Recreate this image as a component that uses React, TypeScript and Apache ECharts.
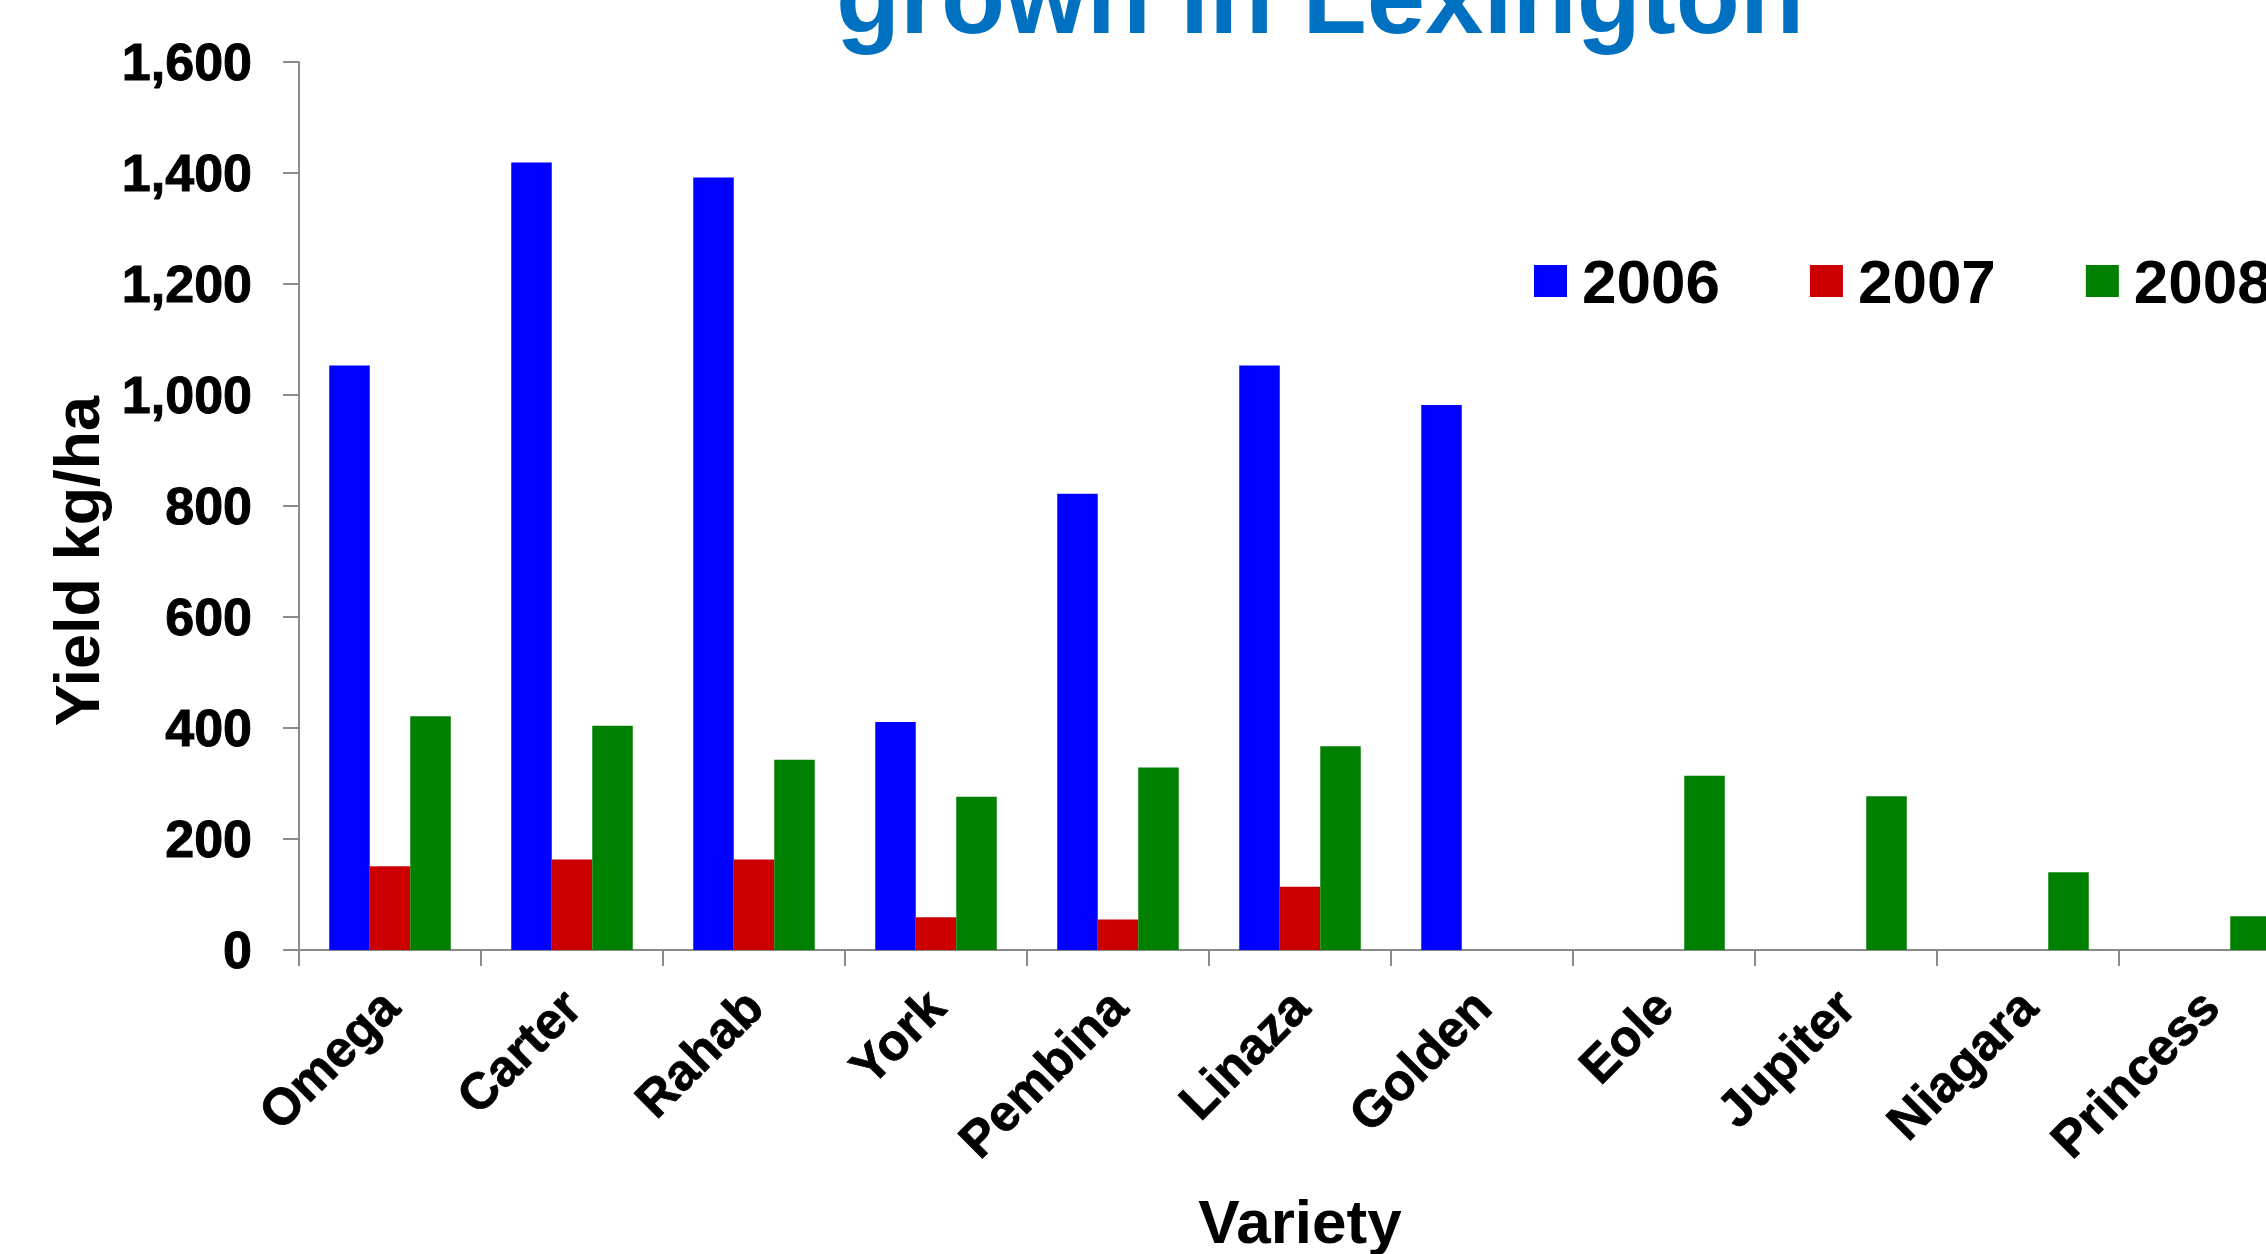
import React, { useEffect, useRef } from "react";
import * as echarts from "echarts";

const categories = ["Omega", "Carter", "Rahab", "York", "Pembina", "Linaza", "Golden", "Eole", "Jupiter", "Niagara", "Princess"];
const y2006 = [1053, 1419, 1392, 411, 822, 1053, 982, null, null, null, null];
const y2007 = [151, 163, 163, 59, 55, 114, null, null, null, null, null];
const y2008 = [421, 404, 343, 276, 329, 367, null, 314, 277, 140, 61];
const seriesNames = ["2006", "2007", "2008"];
const seriesColors = ["#0000FF", "#CC0000", "#008000"];
const titleText = "grown in Lexington";
const yAxisName = "Yield kg/ha";
const xAxisName = "Variety";

const FONT = "'Liberation Sans', Arial, sans-serif";

export default function App() {
  const ref = useRef<HTMLDivElement>(null);
  useEffect(() => {
    const chart = echarts.init(ref.current!, null, { renderer: "svg" });
    const data = [y2006, y2007, y2008];
    chart.setOption({
      animation: false,
      backgroundColor: "#ffffff",
      grid: { left: 299, top: 62, width: 2002, height: 888, containLabel: false, outerBoundsMode: "none" },
      legend: {
        data: seriesNames,
        left: 1529,
        top: 245,
        width: 1200,
        itemWidth: 33,
        itemHeight: 32,
        itemGap: 90,
        icon: "rect",
        textStyle: { fontFamily: FONT, fontSize: 62, fontWeight: "bold", color: "#000", padding: [0, 0, 0, 10] },
      },
      xAxis: {
        type: "category",
        data: categories,
        axisLine: { show: true, lineStyle: { color: "#8c8c8c", width: 2 } },
        axisTick: { show: true, length: 16, lineStyle: { color: "#8c8c8c", width: 2 } },
        axisLabel: {
          rotate: 45,
          margin: 48,
          interval: 0,
          fontFamily: FONT,
          fontSize: 51,
          fontWeight: "bold",
          color: "#000",
          textBorderColor: "#000",
          textBorderWidth: 0.8,
        },
        splitLine: { show: false },
      },
      yAxis: {
        type: "value",
        min: 0,
        max: 1600,
        interval: 200,
        axisLine: { show: true, lineStyle: { color: "#8c8c8c", width: 2 } },
        axisTick: { show: true, length: 16, lineStyle: { color: "#8c8c8c", width: 2 } },
        axisLabel: {
          margin: 47,
          fontFamily: FONT,
          fontSize: 52,
          fontWeight: "bold",
          color: "#000",
          textBorderColor: "#000",
          textBorderWidth: 1,
          formatter: (v: number) => v.toLocaleString("en-US"),
        },
        splitLine: { show: false },
      },
      series: seriesNames.map((n, i) => ({
        name: n,
        type: "bar",
        data: data[i],
        barWidth: 40.5,
        barGap: "0%",
        itemStyle: { color: seriesColors[i] },
      })),
      graphic: [
        {
          type: "text",
          x: 1320,
          y: -4,
          style: {
            text: titleText,
            fontFamily: FONT,
            fontSize: 105,
            fontWeight: "bold",
            fill: "#0070C0",
            align: "center",
            verticalAlign: "middle",
          },
        },
        {
          type: "text",
          x: 77,
          y: 561,
          rotation: Math.PI / 2,
          style: {
            text: yAxisName,
            fontFamily: FONT,
            fontSize: 63,
            fontWeight: "bold",
            fill: "#000",
            align: "center",
            verticalAlign: "middle",
          },
        },
        {
          type: "text",
          x: 1300,
          y: 1221,
          style: {
            text: xAxisName,
            fontFamily: FONT,
            fontSize: 62,
            fontWeight: "bold",
            fill: "#000",
            align: "center",
            verticalAlign: "middle",
          },
        },
      ],
    });
    return () => chart.dispose();
  }, []);
  return <div ref={ref} style={{ width: 2266, height: 1254, position: "absolute", left: 0, top: 0 }} />;
}
